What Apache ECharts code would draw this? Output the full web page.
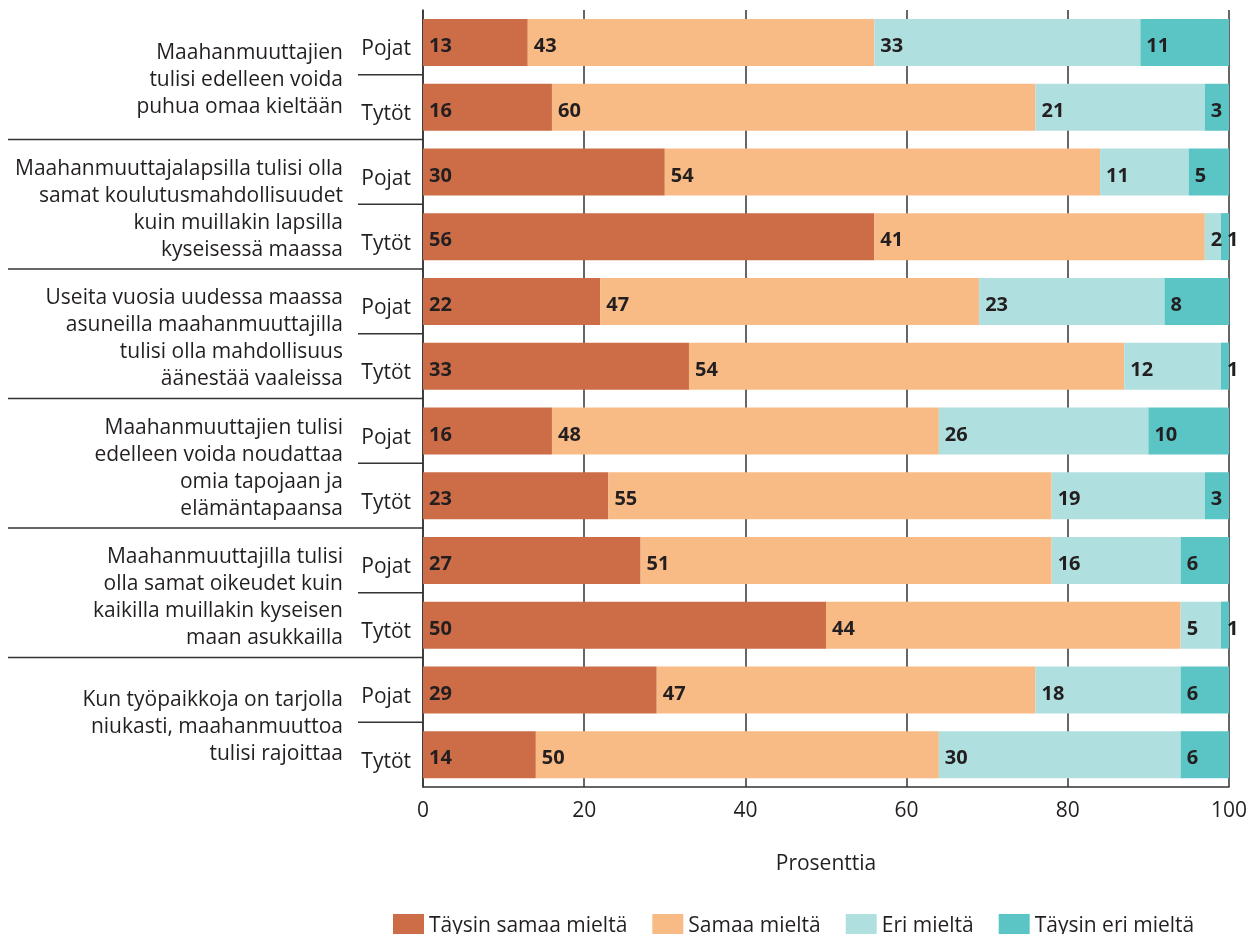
<!DOCTYPE html>
<html>
<head>
<meta charset="utf-8">
<script src="https://cdn.jsdelivr.net/npm/echarts@6/dist/echarts.min.js"></script>
<style>
  html, body { margin: 0; padding: 0; background: #fff; }
  #main { width: 1256px; height: 934px; }
</style>
</head>
<body>
<div id="main"></div>
<script>
// väittämät (two rows each: Pojat, Tytöt)
const statements = [
  'Maahanmuuttajien\ntulisi edelleen voida\npuhua omaa kieltään',
  'Maahanmuuttajalapsilla tulisi olla\nsamat koulutusmahdollisuudet\nkuin muillakin lapsilla\nkyseisessä maassa',
  'Useita vuosia uudessa maassa\nasuneilla maahanmuuttajilla\ntulisi olla mahdollisuus\näänestää vaaleissa',
  'Maahanmuuttajien tulisi\nedelleen voida noudattaa\nomia tapojaan ja\nelämäntapaansa',
  'Maahanmuuttajilla tulisi\nolla samat oikeudet kuin\nkaikilla muillakin kyseisen\nmaan asukkailla',
  'Kun työpaikkoja on tarjolla\nniukasti, maahanmuuttoa\ntulisi rajoittaa'
];
const rows = ['Pojat', 'Tytöt', 'Pojat', 'Tytöt', 'Pojat', 'Tytöt',
              'Pojat', 'Tytöt', 'Pojat', 'Tytöt', 'Pojat', 'Tytöt'];
const seriesNames = ['Täysin samaa mieltä', 'Samaa mieltä', 'Eri mieltä', 'Täysin eri mieltä'];
const taysinSamaa = [13, 16, 30, 56, 22, 33, 16, 23, 27, 50, 29, 14];
const samaa = [43, 60, 54, 41, 47, 54, 48, 55, 51, 44, 47, 50];
const eri = [33, 21, 11, 2, 23, 12, 26, 19, 16, 5, 18, 30];
const taysinEri = [11, 3, 5, 1, 8, 1, 10, 3, 6, 1, 6, 6];
const xTicks = [0, 20, 40, 60, 80, 100];

const colors = ['#cd6d48', '#f9bb85', '#b0dfe0', '#5bc5c6'];
const font = '"Open Sans", "Noto Sans", sans-serif';
const ink = '#231f20';

const myChart = echarts.init(document.querySelector('#main'));

const mkSeries = (name, data, i) => ({
  name: name,
  type: 'bar',
  stack: 'all',
  data: data,
  barWidth: 47,
  itemStyle: { color: colors[i] },
  label: {
    show: true,
    position: 'insideLeft',
    distance: 6,
    offset: [0, 4],
    color: ink,
    fontFamily: font,
    fontWeight: 'bold',
    fontSize: 20
  }
});

let option = {
  animation: false,
  color: colors,
  textStyle: { fontFamily: font },
  grid: { left: 423, right: 27, top: 10, bottom: 147 },
  legend: {
    left: 388,
    top: 909,
    itemWidth: 31,
    itemHeight: 25,
    itemGap: 25,
    icon: 'rect',
    textStyle: { fontSize: 21, color: ink, fontFamily: font },
    data: seriesNames
  },
  xAxis: {
    type: 'value',
    min: xTicks[0],
    max: xTicks[xTicks.length - 1],
    interval: 20,
    name: 'Prosenttia',
    nameLocation: 'middle',
    nameGap: 67,
    nameTextStyle: { fontSize: 21, color: ink, fontFamily: font },
    axisLine: { show: true, lineStyle: { color: '#333', width: 1.5 } },
    axisTick: { show: false },
    splitLine: { show: true, lineStyle: { color: '#333', width: 1.5 } },
    axisLabel: { fontSize: 21, color: ink, margin: 14, fontFamily: font }
  },
  yAxis: {
    type: 'category',
    inverse: true,
    data: rows,
    axisLine: { show: true, lineStyle: { color: '#333', width: 1.5 } },
    axisTick: { show: false },
    axisLabel: {
      fontSize: 21, color: ink, margin: 12, fontFamily: font,
      verticalAlign: 'top', lineHeight: 14
    }
  },
  series: [
    mkSeries(seriesNames[0], taysinSamaa, 0),
    mkSeries(seriesNames[1], samaa, 1),
    mkSeries(seriesNames[2], eri, 2),
    mkSeries(seriesNames[3], taysinEri, 3)
  ]
};
option && myChart.setOption(option);

// väittämätekstit ja erotinviivat akselin mukaan
const x0 = myChart.convertToPixel({ xAxisIndex: 0 }, 0);
const yOf = (i) => myChart.convertToPixel({ yAxisIndex: 0 }, i);
const graphics = [];
statements.forEach((s, g) => {
  const yP = yOf(2 * g), yT = yOf(2 * g + 1);
  graphics.push({
    type: 'text',
    x: 343,
    y: (yP + yT) / 2 + 5,
    style: {
      text: s,
      align: 'right',
      verticalAlign: 'middle',
      fontSize: 21,
      lineHeight: 27,
      fill: ink,
      fontFamily: font
    }
  });
  graphics.push({
    type: 'line',
    shape: { x1: 358, y1: (yP + yT) / 2, x2: x0, y2: (yP + yT) / 2 },
    style: { stroke: '#333', lineWidth: 1.5 }
  });
  if (g > 0) {
    const yb = (yOf(2 * g - 1) + yP) / 2;
    graphics.push({
      type: 'line',
      shape: { x1: 8, y1: yb, x2: x0, y2: yb },
      style: { stroke: '#333', lineWidth: 1.5 }
    });
  }
});
myChart.setOption({ graphic: graphics });
</script>
</body>
</html>
